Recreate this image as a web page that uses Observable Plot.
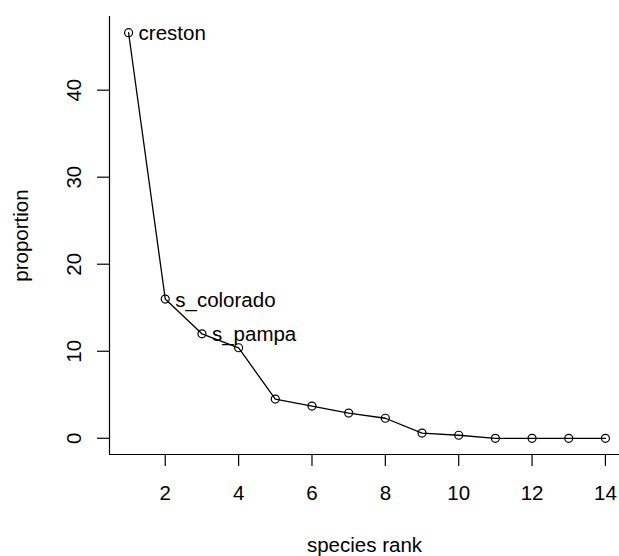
<!DOCTYPE html>
<html>
<head>
<meta charset="utf-8">
<script src="https://cdn.jsdelivr.net/npm/d3@7"></script>
<script src="https://cdn.jsdelivr.net/npm/@observablehq/plot@0.6"></script>
<style>
  html, body { margin: 0; padding: 0; background: #fff; }
</style>
</head>
<body>
<div id="chart"></div>
<script>
// Rank-abundance of species (proportion by rank)
const ranks = [1, 2, 3, 4, 5, 6, 7, 8, 9, 10, 11, 12, 13, 14];
const proportions = [46.6, 16.0, 12.0, 10.4, 4.5, 3.7, 2.9, 2.3, 0.6, 0.35, 0, 0, 0, 0];
const speciesLabels = ["creston", "s_colorado", "s_pampa"];
const xTicks = [2, 4, 6, 8, 10, 12, 14];
const yTicks = [0, 10, 20, 30, 40];

const data = ranks.map((r, i) => ({rank: r, proportion: proportions[i]}));
const labelled = speciesLabels.map((name, i) => ({...data[i], name}));

// Pad each domain by 4% on both sides
const pad = (lo, hi) => [lo - 0.04 * (hi - lo), hi + 0.04 * (hi - lo)];
const xDomain = pad(d3.min(ranks), d3.max(ranks));
const yDomain = pad(d3.min(proportions), d3.max(proportions));

const W = 619, H = 556;
const plotLeft = 109, plotTop = 16, plotBottom = 454, plotRight = 624;
const font = 20.5;

const chart = Plot.plot({
  width: W,
  height: H,
  marginLeft: plotLeft,
  marginTop: plotTop,
  marginRight: 0,
  marginBottom: H - plotBottom,
  style: {fontFamily: "'Liberation Sans', Arial, sans-serif", fontSize: font + "px", color: "#000", background: "#fff"},
  x: {domain: xDomain, range: [plotLeft, plotRight]},
  y: {domain: yDomain},
  marks: [
    // L-shaped box
    Plot.ruleX([xDomain[0]], {stroke: "#000", strokeWidth: 1.2}),
    Plot.ruleY([yDomain[0]], {stroke: "#000", strokeWidth: 1.2}),
    Plot.axisX({ticks: xTicks, tickSize: 12, tickPadding: 19, fontSize: font, label: null, strokeWidth: 1.2}),
    // y ticks, then labels running parallel to the axis
    Plot.axisY({ticks: yTicks, tickSize: 12, text: null, label: null, strokeWidth: 1.2}),
    Plot.axisY({ticks: yTicks, tickSize: 0, tickPadding: 29, fontSize: font, label: null,
      rotate: -90, textAnchor: "middle", lineAnchor: "bottom"}),
    Plot.text(["species rank"], {frameAnchor: "bottom", dy: 97, lineAnchor: "bottom", fontSize: font, fill: "#000"}),
    Plot.text(["proportion"], {frameAnchor: "left", dx: -82, rotate: -90, textAnchor: "middle", lineAnchor: "bottom", fontSize: font, fill: "#000"}),
    Plot.line(data, {x: "rank", y: "proportion", stroke: "#000", strokeWidth: 1.3}),
    Plot.dot(data, {x: "rank", y: "proportion", r: 4, stroke: "#000", fill: "none", strokeWidth: 1.2}),
    Plot.text(labelled, {x: "rank", y: "proportion", text: "name", textAnchor: "start", dx: 10, dy: 1, lineAnchor: "middle", fontSize: font, fill: "#000"})
  ]
});
document.getElementById("chart").appendChild(chart);
</script>
</body>
</html>
